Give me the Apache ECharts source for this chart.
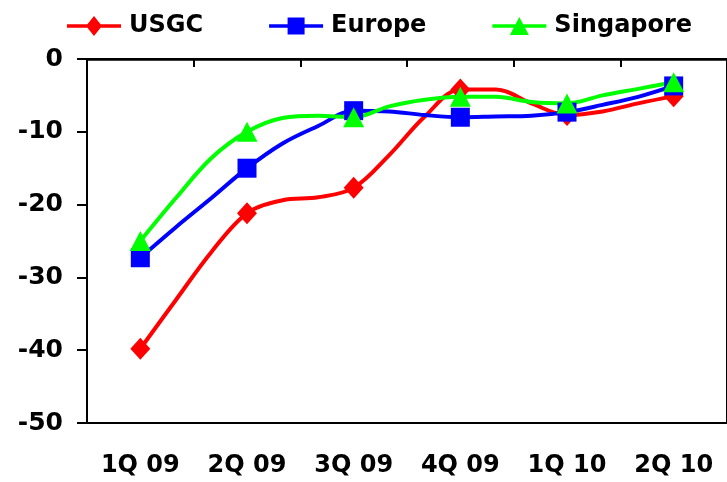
<!DOCTYPE html>
<html>
<head>
<meta charset="utf-8">
<script src="https://cdn.jsdelivr.net/npm/echarts@6/dist/echarts.min.js"></script>
<style>
  html, body { margin: 0; padding: 0; background: #fff; }
  #chart { width: 727px; height: 482px; }
</style>
</head>
<body>
<div id="chart"></div>
<script>
// Quarter labels on the category axis
const quarters = ['1Q 09', '2Q 09', '3Q 09', '4Q 09', '1Q 10', '2Q 10'];
// Monthly readings, first month of 1Q 09 through 2Q 10 (markers every third month)
const usgc      = [-39.8, -33.1, -26.5, -21.2, -19.4, -19.0, -17.7, -13.2, -7.9, -4.2, -4.2, -6.1, -7.7, -7.2, -6.1, -5.1];
const europe    = [-27.3, -23.1, -19.1, -15.0, -11.6, -9.2, -7.1, -7.2, -7.7, -8.0, -7.9, -7.8, -7.3, -6.3, -5.2, -3.7];
const singapore = [-25.0, -19.1, -13.6, -10.0, -8.1, -7.8, -8.0, -6.5, -5.6, -5.2, -5.2, -5.9, -6.1, -5.0, -4.1, -3.2];
const yTicks = [0, -10, -20, -30, -40, -50];

const labelFont = '"DejaVu Sans", Verdana, sans-serif';

// Legend keys: a line segment with the series marker in the middle
const legendIcons = {
  USGC: 'path://M0,8.2H20.4L27,0L33.6,8.2H54V11.8H33.6L27,20L20.4,11.8H0Z',
  Europe: 'path://M0,8.2H18.5V1.5H35.5V8.2H54V11.8H35.5V18.5H18.5V11.8H0Z',
  Singapore: 'path://M0,8.2H23.2L27,1L30.8,8.2H54V11.8H32.7L36.5,19H17.5L21.3,11.8H0Z'
};

// month index -> position on the month scale (first quarter centred at 1.5)
function toPoints(values) {
  return values.map((v, i) => ({
    value: [1.5 + i, v],
    symbol: i % 3 === 0 ? undefined : 'none'
  }));
}

function lineSeries(name, values, color, symbol, size) {
  return {
    name: name,
    type: 'line',
    xAxisIndex: 1,
    data: toPoints(values),
    smooth: 0.35,
    symbol: symbol,
    symbolSize: size,
    showAllSymbol: true,
    lineStyle: { color: color, width: 4 },
    itemStyle: { color: color },
    emphasis: { disabled: true },
    animation: false
  };
}

const chart = echarts.init(document.getElementById('chart'), null, { renderer: 'canvas' });
chart.setOption({
  backgroundColor: '#ffffff',
  animation: false,
  legend: {
    left: 62,
    top: 9,
    itemWidth: 54,
    itemHeight: 20,
    itemGap: 66,
    textStyle: { fontFamily: labelFont, fontWeight: 'bold', fontSize: 24, color: '#000', padding: [0, 0, 0, 3] },
    data: Object.keys(legendIcons).map(n => ({ name: n, icon: legendIcons[n] }))
  },
  grid: {
    left: 87, top: 59, width: 658, height: 364,
    show: true, borderColor: '#000', borderWidth: 2, backgroundColor: 'transparent'
  },
  xAxis: [
    {
      type: 'category',
      data: quarters,
      position: 'bottom',
      boundaryGap: true,
      axisLine: { show: false },
      axisTick: { show: false },
      axisLabel: {
        margin: 31,
        fontFamily: labelFont, fontWeight: 'bold', fontSize: 24, color: '#000',
        interval: 0
      }
    },
    {
      type: 'value',
      position: 'top',
      min: 0, max: 18, interval: 3,
      axisLine: { show: true, lineStyle: { color: '#000', width: 2.5 } },
      axisTick: { show: true, inside: true, length: 8, lineStyle: { color: '#000', width: 2 } },
      axisLabel: { show: false },
      splitLine: { show: false }
    }
  ],
  yAxis: {
    type: 'value',
    min: -50, max: 0, interval: 10,
    axisLine: { show: true, lineStyle: { color: '#000', width: 2 } },
    axisTick: { show: true, inside: false, length: 10, lineStyle: { color: '#000', width: 2 } },
    axisLabel: {
      margin: 24,
      fontFamily: labelFont, fontWeight: 'bold', fontSize: 25, color: '#000',
      formatter: v => yTicks.includes(v) ? String(v) : ''
    },
    splitLine: { show: false }
  },
  series: [
    lineSeries('USGC', usgc, '#ff0000', 'diamond', [20, 22]),
    lineSeries('Europe', europe, '#0000ff', 'rect', 19),
    lineSeries('Singapore', singapore, '#00ff00', 'triangle', [21, 20])
  ]
});
</script>
</body>
</html>
